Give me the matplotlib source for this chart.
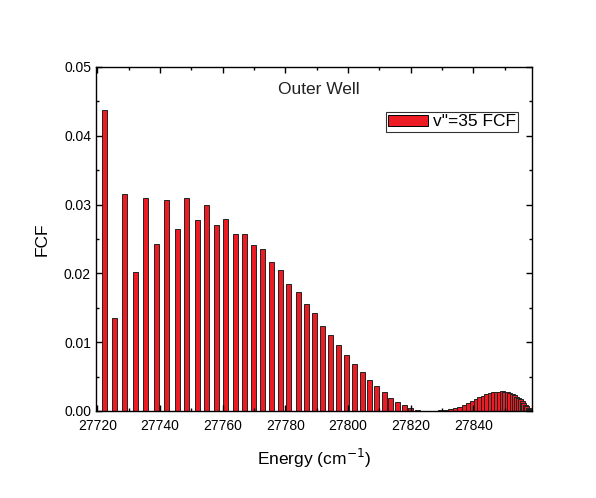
import matplotlib
matplotlib.use('Agg')
import matplotlib.pyplot as plt
from matplotlib.ticker import MultipleLocator, FormatStrFormatter

plt.rcParams['font.family'] = ['Liberation Sans', 'DejaVu Sans']

# bar positions (cm-1) and Franck-Condon factors
energy = [27722.3, 27725.5, 27728.8, 27732.3, 27735.5, 27738.9, 27742.1, 27745.5,
          27748.5, 27751.9, 27754.7, 27757.9, 27760.9, 27764.0, 27766.9, 27769.8,
          27772.7, 27775.6, 27778.4, 27781.1, 27784.1, 27786.7, 27789.4, 27792.0,
          27794.5, 27797.1, 27799.6, 27802.1, 27804.5, 27806.9, 27809.2, 27811.6,
          27813.7, 27815.8, 27818.0, 27820.1, 27822.1, 27824.0, 27825.9, 27827.7,
          27829.5, 27831.1, 27832.7, 27834.2, 27835.7, 27837.1, 27838.4, 27839.7,
          27841.0, 27842.1, 27843.2, 27844.3, 27845.4, 27846.4, 27847.3, 27848.3,
          27849.3, 27850.1, 27850.9, 27851.7, 27852.5, 27853.1, 27853.7, 27854.4,
          27855.0, 27855.7, 27856.1, 27856.6, 27857.1, 27857.6, 27857.9, 27858.2]
fcf = [0.0438, 0.0135, 0.0315, 0.0202, 0.0309, 0.0242, 0.0307, 0.0265,
       0.0309, 0.0277, 0.0299, 0.0271, 0.0279, 0.0257, 0.0257, 0.0241,
       0.0235, 0.0216, 0.0205, 0.0185, 0.0173, 0.0155, 0.0143, 0.0124,
       0.0111, 0.0096, 0.0082, 0.0069, 0.0057, 0.0045, 0.0036, 0.0027,
       0.0019, 0.0013, 0.0008, 0.0004, 0.00015, 0.00005, 0.0, 0.00002,
       0.0001, 0.0002, 0.0003, 0.0004, 0.0006, 0.0009, 0.0011, 0.0014,
       0.0017, 0.0020, 0.0022, 0.0024, 0.0026, 0.0027, 0.0028, 0.0028,
       0.0029, 0.0028, 0.0027, 0.0026, 0.0024, 0.0023, 0.0021, 0.0019,
       0.0017, 0.0014, 0.0011, 0.0009, 0.0007, 0.0005, 0.0003, 0.0002]

fig = plt.figure(figsize=(5.96, 4.98), dpi=100)
ax = fig.add_axes([0.161, 0.1747, 0.732, 0.6908])

ax.bar(energy, fcf, width=1.6, color='#ED1C24', edgecolor='#222222',
       linewidth=0.7, label='v"=35 FCF')

ax.set_xlim(27719.55, 27858.85)
ax.set_ylim(0, 0.05)
ax.xaxis.set_major_locator(MultipleLocator(20))
ax.xaxis.set_minor_locator(MultipleLocator(10))
ax.yaxis.set_major_locator(MultipleLocator(0.01))
ax.yaxis.set_minor_locator(MultipleLocator(0.005))
ax.yaxis.set_major_formatter(FormatStrFormatter('%.2f'))

ax.tick_params(which='both', direction='in', top=True, right=True, labelsize=10)
ax.tick_params(which='major', length=4, width=1)
ax.tick_params(which='minor', length=2.5, width=1)
ax.tick_params(axis='x', which='major', pad=6)
for sp in ax.spines.values():
    sp.set_linewidth(1)

ax.set_xlabel('Energy (cm$^{-1}$)', fontsize=12.5, labelpad=10)
ax.set_ylabel('FCF', fontsize=12.5, labelpad=10)

ax.text(0.51, 0.935, 'Outer Well', transform=ax.transAxes, ha='center',
        va='center', fontsize=12.5, color='#222222')

leg = ax.legend(loc='upper right', bbox_to_anchor=(0.967, 0.868), fontsize=12.5,
                frameon=True, fancybox=False, borderpad=0.12,
                handlelength=2.3, handleheight=0.6, handletextpad=0.3,
                borderaxespad=0)
leg.get_frame().set_edgecolor('black')
leg.get_frame().set_linewidth(0.8)
for h in leg.legend_handles:
    h.set_edgecolor('black')

fig.savefig('out.png', dpi=100)
